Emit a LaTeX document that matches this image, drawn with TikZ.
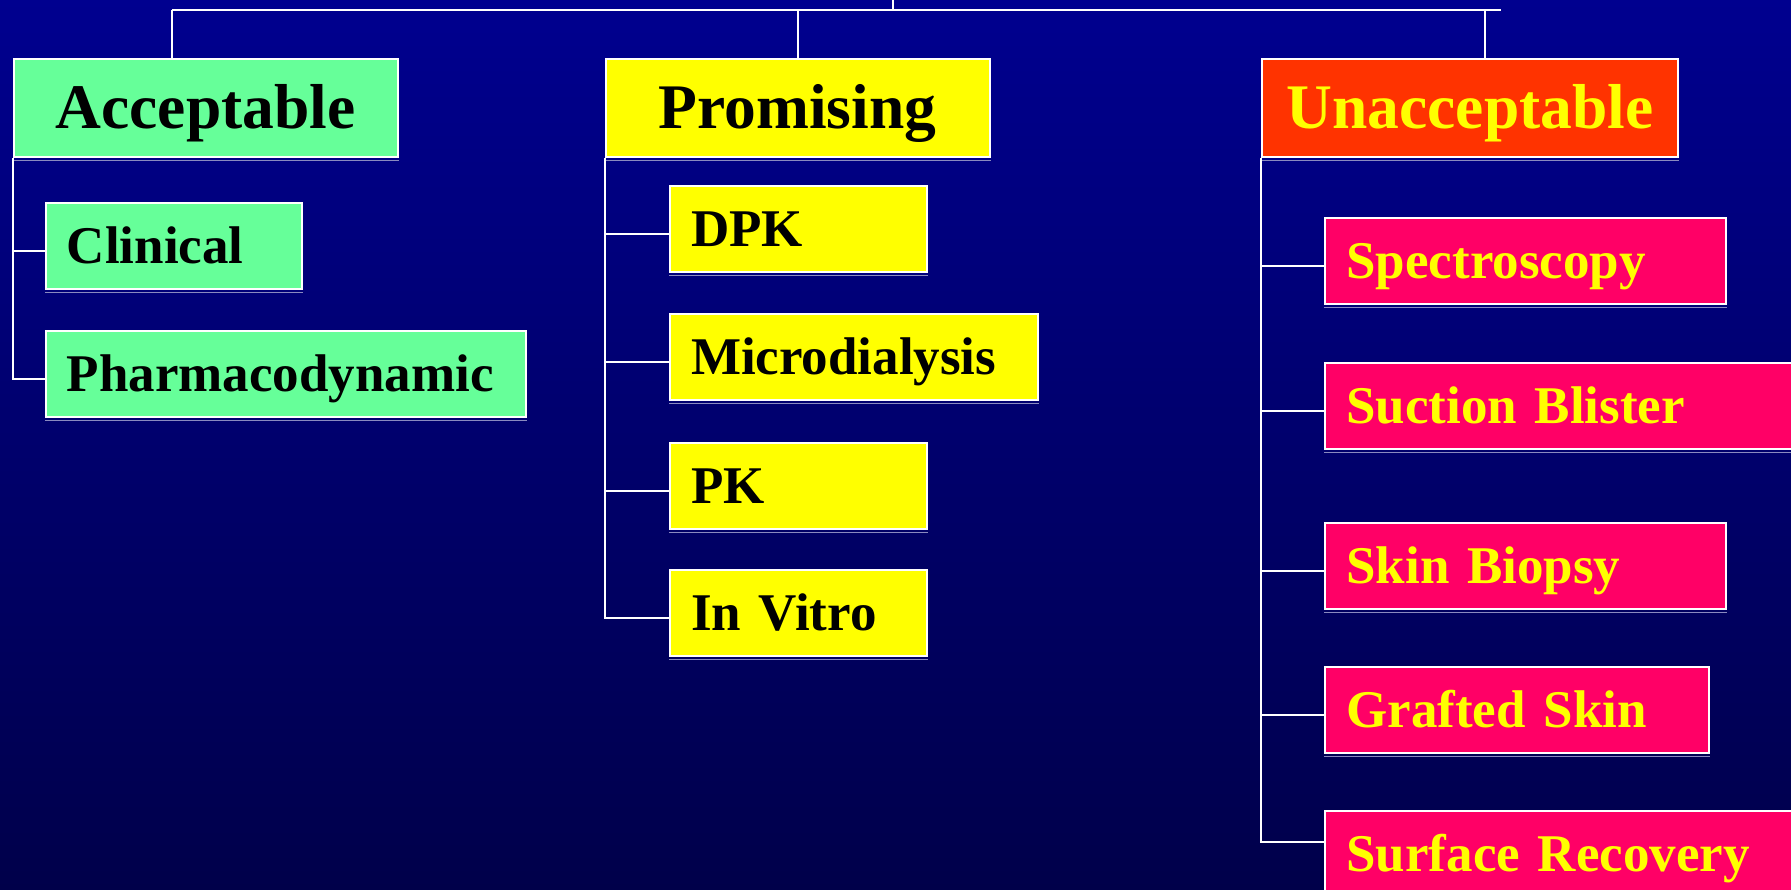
\documentclass[tikz,border=0pt]{standalone}
\usepackage{fontspec}
\setmainfont{Liberation Serif}

\definecolor{bgtop}{HTML}{00008F}
\definecolor{bgbot}{HTML}{00004A}
\definecolor{accgreen}{HTML}{66FF99}
\definecolor{promyellow}{HTML}{FFFF00}
\definecolor{unared}{HTML}{FF3300}
\definecolor{unapink}{HTML}{FF0066}
\definecolor{boxshade}{HTML}{8A8AC0}

\begin{document}
\begin{tikzpicture}[x=1pt,y=-1pt,
  box/.style={draw=white, line width=2pt, rectangle, anchor=north west, inner sep=0pt},
  headbox/.style={box, minimum height=98pt, font=\fontsize{63.5}{70}\selectfont\bfseries,
    text height=42pt, text depth=0pt},
  itembox/.style={box, minimum height=86pt, inner xsep=21pt, align=left,
    font=\fontsize{53}{60}\selectfont\bfseries, text height=35pt, text depth=0pt},
  accbox/.style={fill=accgreen, text=black},
  prombox/.style={fill=promyellow, text=black},
  unahead/.style={fill=unared, text=promyellow},
  unabox/.style={fill=unapink, text=promyellow},
  link/.style={draw=white, line width=2pt},
  shadowline/.style={draw=boxshade, line width=1.5pt},
]
\useasboundingbox (0,0) rectangle (1791,890);
\clip (0,0) rectangle (1791,890);
\shade[top color=bgtop, bottom color=bgbot] (0,0) rectangle (1791,890);

% column headings
\node[headbox, accbox,  minimum width=384pt] (acc)  at (12.6,58) {Acceptable};
\node[headbox, prombox, minimum width=384pt] (prom) at (604.5,58) {Promising};
\node[headbox, unahead, minimum width=416pt] (una)  at (1261,58) {Unacceptable};

% acceptable methods
\node[itembox, accbox, text width=214pt] (cli) at (44.8,202) {Clinical};
\node[itembox, accbox, text width=438pt] (pha) at (44.8,330) {Pharmacodynamic};

% promising methods
\node[itembox, prombox, text width=215pt] (dpk) at (669,185) {DPK};
\node[itembox, prombox, text width=326pt] (mic) at (669,313) {Microdialysis};
\node[itembox, prombox, text width=215pt] (pk)  at (669,442) {PK};
\node[itembox, prombox, text width=215pt] (vit) at (669,569) {In Vitro};

% unacceptable methods
\node[itembox, unabox, text width=359pt] (spe) at (1324.4,217) {Spectroscopy};
\node[itembox, unabox, text width=458pt] (suc) at (1324.4,362) {Suction Blister};
\node[itembox, unabox, text width=359pt] (bio) at (1324.4,522) {Skin Biopsy};
\node[itembox, unabox, text width=342pt] (gra) at (1324.4,666) {Grafted Skin};
\node[itembox, unabox, text width=458pt] (sur) at (1324.4,810) {Surface Recovery};

% thin shading under each box
\foreach \b in {acc,prom,una,cli,pha,dpk,mic,pk,vit,spe,suc,bio,gra,sur}
  \draw[shadowline] ([yshift=-2.5pt]\b.south west) -- ([yshift=-2.5pt]\b.south east);

% top bar and drops to the headings
\coordinate (stem) at (893,0);
\coordinate (barL) at (172,10);
\coordinate (barR) at (1501,10);
\draw[link] (stem) -- (stem |- barL);
\draw[link] (barL) -- (barR);
\draw[link] (barL) -- (barL |- acc.north);
\draw[link] (prom.north |- barL) -- (prom.north);
\coordinate (unadrop) at (1485,10);
\draw[link] (unadrop) -- (unadrop |- una.north);

% acceptable branch
\draw[link] (acc.south west) |- ([yshift=-5pt]pha.west);
\draw[link] ([yshift=-5pt]cli.west) -- ([yshift=-5pt]cli.west -| acc.south west);

% promising branch
\draw[link] (prom.south west) |- ([yshift=-5pt]vit.west);
\foreach \b in {dpk,mic,pk}
  \draw[link] ([yshift=-5pt]\b.west) -- ([yshift=-5pt]\b.west -| prom.south west);

% unacceptable branch; the last box meets the trunk near its top
\draw[link] (una.south west) |- ([yshift=-32pt]sur.north west);
\foreach \b in {spe,suc,bio,gra}
  \draw[link] ([yshift=-5pt]\b.west) -- ([yshift=-5pt]\b.west -| una.south west);
\end{tikzpicture}
\end{document}
